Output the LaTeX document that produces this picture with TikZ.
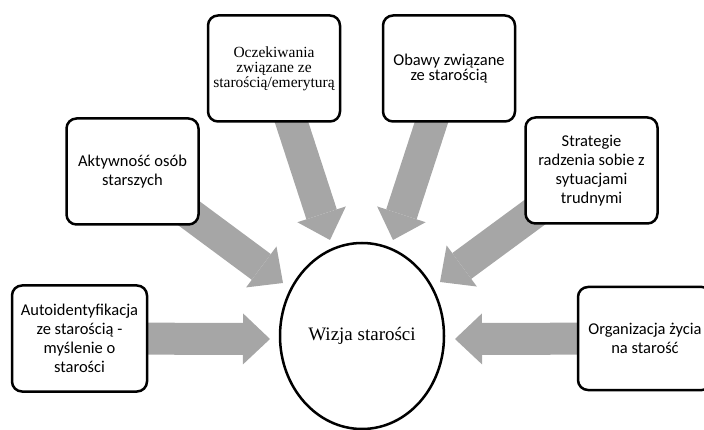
\documentclass[tikz,border=0pt]{standalone}
\usepackage{fontspec}
\setmainfont{Liberation Serif}
\newfontfamily\boxfont{Carlito}
\usetikzlibrary{arrows.meta,shapes.geometric,backgrounds}
\definecolor{arrowgray}{RGB}{166,166,166}

\begin{document}
\begin{tikzpicture}[x=1pt,y=-1pt,
    topic/.style={draw,line width=2.5pt,rounded corners=10pt,fill=white,
      minimum width=132pt,minimum height=106pt,align=center,
      font=\boxfont\fontsize{16.5}{19}\selectfont},
    serifbox/.style={topic,font=\fontsize{15.5}{15}\selectfont},
    bigarrow/.style={arrowgray,line width=32pt,
      -{Triangle[length=27pt,width=51pt,line width=0pt]}}]
    \useasboundingbox (0,0) rectangle (704,430);
    % boxes round the circle
    \node[serifbox] (ocz) at (274,68.5) {Oczekiwania\\związane ze\\starością/emeryturą};
    \node[topic,font=\boxfont\fontsize{16.5}{15.5}\selectfont] (obawy) at (449,68.5) {Obawy związane\\ze starością};
    \node[topic] (akt) at (132.5,171.5) {Aktywność osób\\starszych};
    \node[topic] (strat) at (591.5,170.5) {Strategie\\radzenia sobie z\\sytuacjami\\trudnymi};
    \node[topic,minimum width=135pt] (auto) at (79.5,338.5) {Autoidentyfikacja\\ze starością -\\myślenie o\\starości};
    \node[topic,minimum width=134pt,minimum height=103pt] (org) at (645,338.5) {Organizacja życia\\na starość};
    \node[draw,ellipse,line width=2.5pt,minimum width=164pt,minimum height=186pt,
      font=\fontsize{19}{22}\selectfont] (wizja) at (362,336) {Wizja starości};
    % where the arrows end
    \coordinate (tocz) at (330,240);
    \coordinate (tobawy) at (393,240);
    \coordinate (takt) at (283,283);
    \coordinate (tstrat) at (440,282);
    \coordinate (tauto) at (270,339);
    \coordinate (torg) at (455,339);
    \begin{pgfonlayer}{background}
      \foreach \from/\to in {ocz/tocz,obawy/tobawy,akt/takt,strat/tstrat,auto/tauto,org/torg}
        \draw[bigarrow] (\from.center) -- (\to);
    \end{pgfonlayer}
\end{tikzpicture}
\end{document}
